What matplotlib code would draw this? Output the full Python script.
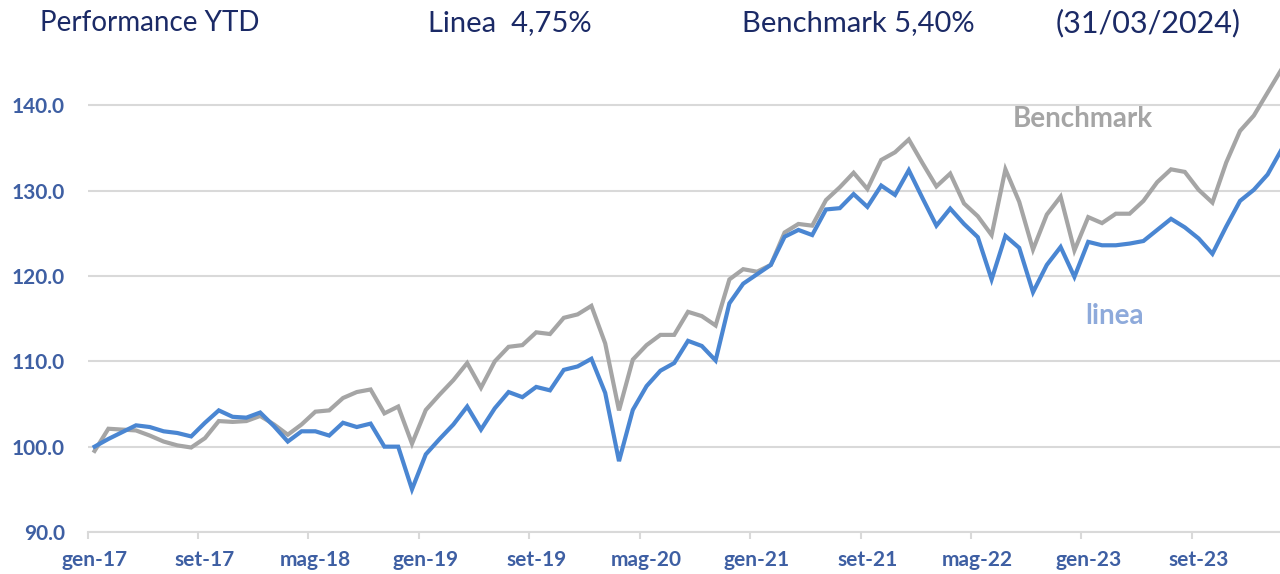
import matplotlib
matplotlib.use('Agg')
import matplotlib.pyplot as plt
import numpy as np

plt.rcParams['font.family'] = ['Lato', 'DejaVu Sans']

# monthly values, gen-17 .. mar-24
linea = [100.0, 100.9, 101.7, 102.5, 102.3, 101.8, 101.6, 101.2, 102.8, 104.25,
         103.5, 103.4, 104.0, 102.4, 100.6, 101.8, 101.8, 101.3, 102.8, 102.3,
         102.7, 100.0, 100.0, 95.0, 99.1, 100.9, 102.6, 104.7, 102.0, 104.5,
         106.4, 105.8, 107.0, 106.6, 109.0, 109.4, 110.3, 106.3, 98.3, 104.3,
         107.1, 108.9, 109.8, 112.4, 111.8, 110.1, 116.8, 119.1, 120.2, 121.3,
         124.6, 125.4, 124.8, 127.8, 127.95, 129.6, 128.1, 130.6, 129.5, 132.4,
         129.1, 125.9, 127.9, 126.1, 124.55, 119.6, 124.7, 123.3, 118.1, 121.3,
         123.4, 119.9, 124.0, 123.6, 123.6, 123.8, 124.1, 125.4, 126.7, 125.7,
         124.4, 122.6, 125.8, 128.8, 130.1, 131.9, 134.8]

benchmark = [99.5, 102.1, 102.0, 101.9, 101.3, 100.6, 100.15, 99.9, 101.0, 103.0,
             102.9, 103.0, 103.6, 102.6, 101.4, 102.6, 104.1, 104.25, 105.7, 106.4,
             106.7, 103.9, 104.7, 100.35, 104.3, 106.1, 107.8, 109.8, 106.9, 110.0,
             111.7, 111.9, 113.4, 113.2, 115.1, 115.5, 116.5, 112.1, 104.25, 110.2,
             111.9, 113.1, 113.1, 115.8, 115.3, 114.2, 119.6, 120.8, 120.5, 121.3,
             125.1, 126.1, 125.9, 128.9, 130.4, 132.1, 130.2, 133.6, 134.5, 136.0,
             133.2, 130.5, 132.0, 128.5, 127.0, 124.8, 132.5, 128.7, 123.1, 127.2,
             129.3, 123.0, 126.9, 126.2, 127.3, 127.3, 128.8, 131.0, 132.5, 132.2,
             130.1, 128.6, 133.3, 137.0, 138.8, 141.5, 144.2]

tick_labels = ['gen-17', 'set-17', 'mag-18', 'gen-19', 'set-19', 'mag-20',
               'gen-21', 'set-21', 'mag-22', 'gen-23', 'set-23']
y_ticks = [90, 100, 110, 120, 130, 140]

blue = '#4a86d2'
grey = '#a5a5a5'
label_col = '#3e5fa3'
navy = '#1b2a66'

fig = plt.figure(figsize=(12.8, 5.74), dpi=100)
ax = fig.add_axes([0.0685, 0.0732, 0.938, 0.8176])

x = np.arange(len(linea))
ax.plot(x, benchmark, color=grey, lw=3, solid_joinstyle='miter', zorder=3)
ax.plot(x, linea, color=blue, lw=3, solid_joinstyle='miter', zorder=4)

ax.set_xlim(-0.5, len(linea) - 0.5)
ax.set_ylim(90, 145)

ax.set_yticks(y_ticks)
ax.set_yticklabels(['{:.1f}'.format(v) for v in y_ticks], fontweight='bold')
ax.yaxis.grid(True, color='#d9d9d9', lw=1.5, zorder=0)
ax.tick_params(axis='y', length=0, pad=16.5, labelsize=15, labelcolor=label_col)

ax.set_xticks(np.arange(0, len(linea), 8))
ax.set_xticklabels(tick_labels, fontweight='bold')
ax.set_xticks(np.arange(-0.5, len(linea), 8), minor=True)
ax.tick_params(axis='x', which='major', length=0, pad=13, labelsize=15, labelcolor=label_col)
ax.tick_params(axis='x', which='minor', length=5, width=1.5, color='#d9d9d9')

for s in ['top', 'right', 'left']:
    ax.spines[s].set_visible(False)
ax.spines['bottom'].set_color('#d9d9d9')
ax.spines['bottom'].set_linewidth(1.5)

ax.text(71.6, 138.4, 'Benchmark', color=grey, fontsize=20, fontweight='bold',
        ha='center', va='center')
ax.text(73.9, 115.3, 'linea', color='#8eaadb', fontsize=20, fontweight='bold',
        ha='center', va='center')

ty = 1 - 23 / 574
fig.text(40 / 1280, ty, 'Performance YTD', color=navy, fontsize=20, va='center')
fig.text(510 / 1280, ty, 'Linea  4,75%', color=navy, fontsize=21, va='center', ha='center')
fig.text(858 / 1280, ty, 'Benchmark 5,40%', color=navy, fontsize=21, va='center', ha='center')
fig.text(1148 / 1280, ty, '(31/03/2024)', color=navy, fontsize=22, va='center', ha='center')

fig.savefig('out.png', dpi=100)
